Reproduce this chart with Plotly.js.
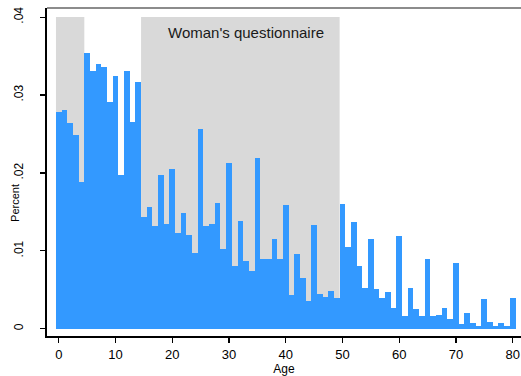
<!DOCTYPE html>
<html>
<head>
<meta charset="utf-8">
<script src="https://cdn.plot.ly/plotly-3.0.1.min.js"></script>
<style>html,body{margin:0;padding:0;background:#fff;}#chart{width:521px;height:376px;}</style>
</head>
<body>
<div id="chart"></div>
<script>
const ages = Array.from({length: 81}, (_, i) => i);
const percent = [
  0.0278, 0.0281, 0.0264, 0.0249, 0.0189, 0.0354, 0.0331, 0.0340, 0.0336, 0.0291,
  0.0324, 0.0197, 0.0331, 0.0265, 0.0317, 0.0144, 0.0156, 0.0132, 0.0197, 0.0134,
  0.0205, 0.0123, 0.0148, 0.0120, 0.0097, 0.0257, 0.0132, 0.0134, 0.0161, 0.0102,
  0.0213, 0.0081, 0.0138, 0.0087, 0.0074, 0.0219, 0.0089, 0.0090, 0.0115, 0.0089,
  0.0159, 0.0044, 0.0096, 0.0065, 0.0036, 0.0133, 0.0045, 0.0041, 0.0048, 0.0039,
  0.0160, 0.0105, 0.0137, 0.0080, 0.0053, 0.0115, 0.0051, 0.0039, 0.0047, 0.0027,
  0.0119, 0.0017, 0.0052, 0.0026, 0.0017, 0.0090, 0.0016, 0.0018, 0.0027, 0.0013,
  0.0084, 0.0006, 0.0020, 0.0008, 0.0003, 0.0038, 0.0009, 0.0004, 0.0008, 0.0004,
  0.0040
];
const xTicks = [0, 10, 20, 30, 40, 50, 60, 70, 80];
const yTickVals = [0, 0.01, 0.02, 0.03, 0.04];
const yTickText = ['0', '.01', '.02', '.03', '.04'];
const shadeStarts = [-0.5, 14.5];
const shadeEnds = [4.5, 49.5];
const shadeTop = 0.04;
const noteText = "Woman's questionnaire";

const shapes = shadeStarts.map((s, i) => ({
  type: 'rect', layer: 'below', xref: 'x', yref: 'y',
  x0: s, x1: shadeEnds[i], y0: 0, y1: shadeTop,
  fillcolor: '#d9d9d9', line: {width: 0}
}));
shapes.push({type: 'line', xref: 'paper', yref: 'paper', x0: 0, x1: 1, y0: 1, y1: 1,
  line: {color: '#666666', width: 1.5}});

const trace = {
  type: 'bar', x: ages, y: percent, width: 1,
  marker: {color: '#3399ff', line: {width: 0}},
  hoverinfo: 'x+y'
};

const layout = {
  width: 521, height: 376,
  margin: {l: 47, r: 0, t: 8, b: 40},
  paper_bgcolor: '#ffffff', plot_bgcolor: '#ffffff',
  showlegend: false, bargap: 0,
  font: {family: 'Liberation Sans, Arial, sans-serif', color: '#000000'},
  xaxis: {
    range: [-2.08, 81.47], tickvals: xTicks, ticks: 'outside', ticklen: 5, tickwidth: 1.2,
    tickcolor: '#000', showgrid: false, zeroline: false, showline: true,
    linecolor: '#000', linewidth: 2, tickfont: {size: 13},
    title: {text: 'Age', font: {size: 12}, standoff: 3}
  },
  yaxis: {
    range: [-0.000925, 0.04117], tickvals: yTickVals, ticktext: yTickText,
    ticks: 'outside', ticklen: 5, tickwidth: 1.2, tickcolor: '#000', tickangle: -90,
    showgrid: false, zeroline: false, showline: true, linecolor: '#000', linewidth: 2,
    tickfont: {size: 12}, ticklabelstandoff: 12
  },
  shapes: shapes,
  annotations: [{
    xref: 'x', yref: 'y', x: 33, y: 0.038, text: noteText, showarrow: false,
    font: {size: 15, color: '#1a1a1a'}, xanchor: 'center', yanchor: 'middle'
  }, {
    xref: 'paper', yref: 'paper', x: -0.068, y: 0.405, text: 'Percent', showarrow: false,
    textangle: -90, font: {size: 11}, xanchor: 'center', yanchor: 'middle'
  }]
};

Plotly.newPlot('chart', [trace], layout, {displayModeBar: false, staticPlot: true});
</script>
</body>
</html>
